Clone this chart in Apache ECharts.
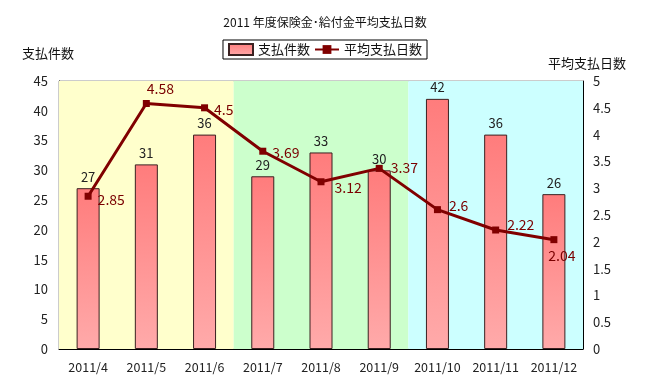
<!DOCTYPE html>
<html><head><meta charset="utf-8">
<script src="https://cdn.jsdelivr.net/npm/echarts@6/dist/echarts.min.js"></script>
<style>html,body{margin:0;padding:0;background:#fff}#c{width:650px;height:391px}</style>
</head><body><div id="c"></div>
<script>
const categories = ['2011/4','2011/5','2011/6','2011/7','2011/8','2011/9','2011/10','2011/11','2011/12'];
const payCounts = [27, 31, 36, 29, 33, 30, 42, 36, 26];
const avgDays = [2.85, 4.58, 4.5, 3.69, 3.12, 3.37, 2.6, 2.22, 2.04];
const leftTicks = [0, 45, 5];
const rightTicks = [0, 5, 0.5];
const bands = [[0, 3, '#FFFFCC'], [3, 6, '#CCFFCC'], [6, 9, '#CCFFFF']];

const FONT = '"Noto Sans CJK JP", "Noto Sans", sans-serif';
const lblPos = [
  {position:'right', offset:[0,3]},
  {position:'top', offset:[14,2]},
  {position:'right', offset:[0,2]},
  {position:'right', offset:[0,1]},
  {position:'right', offset:[4,6]},
  {position:'right', offset:[2,-1]},
  {position:'right', offset:[2,-4]},
  {position:'right', offset:[2,-5]},
  {position:'bottom', offset:[8,0]}
];

const chart = echarts.init(document.getElementById('c'));
chart.setOption({
  backgroundColor: '#fff',
  animation: false,
  textStyle: {fontFamily: FONT},
  title: [
    {text: '2011 年度保険金･給付金平均支払日数', left: 'center', top: 11,
     textStyle: {fontSize: 12, fontWeight: 'normal', color: '#111', fontFamily: FONT}},
    {text: '支払件数', left: 17, top: 42,
     textStyle: {fontSize: 13, fontWeight: 'normal', color: '#111', fontFamily: FONT}},
    {text: '平均支払日数', left: 543, top: 52,
     textStyle: {fontSize: 13, fontWeight: 'normal', color: '#111', fontFamily: FONT}}
  ],
  legend: {
    top: 40, left: 'center',
    borderColor: '#000', borderWidth: 1, borderRadius: 0,
    padding: [3, 5], itemGap: 4, itemWidth: 24, itemHeight: 11,
    backgroundColor: '#fff',
    textStyle: {fontSize: 13, color: '#111', fontFamily: FONT},
    data: [{name: '支払件数', icon: 'rect'}, {name: '平均支払日数'}]
  },
  grid: {left: 59, right: 67, top: 81, bottom: 42, show: true, borderColor: '#999', borderWidth: 1, backgroundColor: 'transparent'},
  xAxis: [
    {type: 'category', data: categories,
     axisLine: {lineStyle: {color: '#000'}},
     axisTick: {inside: true, length: 4, lineStyle: {color: '#000'}},
     axisLabel: {interval: 0, fontSize: 12.5, color: '#222', margin: 12, fontFamily: FONT},
     splitLine: {show: false}},
    {type: 'value', min: 0, max: 9, show: false}
  ],
  yAxis: [
    {type: 'value', min: leftTicks[0], max: leftTicks[1], interval: leftTicks[2],
     axisLine: {show: true, lineStyle: {color: '#000'}},
     axisTick: {show: true, inside: true, length: 4, lineStyle: {color: '#000'}},
     axisLabel: {fontSize: 13, color: '#222', margin: 11, fontFamily: FONT},
     splitLine: {show: false}},
    {type: 'value', min: rightTicks[0], max: rightTicks[1], interval: rightTicks[2],
     position: 'right',
     axisLine: {show: true, lineStyle: {color: '#000'}},
     axisTick: {show: true, inside: true, length: 4, lineStyle: {color: '#000'}},
     axisLabel: {fontSize: 13, color: '#222', margin: 10, fontFamily: FONT},
     splitLine: {show: false}}
  ],
  series: [
    {type: 'line', xAxisIndex: 1, yAxisIndex: 0, data: [], silent: true,
     markArea: {silent: true, data: bands.map(b => [{xAxis: b[0], itemStyle: {color: b[2]}}, {xAxis: b[1]}])}},
    {name: '支払件数', type: 'bar', data: payCounts, barWidth: 23, z: 3,
     itemStyle: {
       color: new echarts.graphic.LinearGradient(0, 0, 0, 1, [{offset: 0, color: '#FF7C7C'}, {offset: 1, color: '#FFAAAA'}]),
       borderColor: '#3a2020', borderWidth: 1
     },
     label: {show: true, position: 'top', distance: 5, fontSize: 13, color: '#222', fontFamily: FONT}},
    {name: '平均支払日数', type: 'line', yAxisIndex: 1, z: 5,
     data: avgDays.map((v, i) => ({value: v, label: lblPos[i]})),
     symbol: 'rect', symbolSize: 7,
     lineStyle: {color: '#800000', width: 3},
     itemStyle: {color: '#800000'},
     label: {show: true, fontSize: 14, color: '#7a0000', fontFamily: FONT, distance: 6}}
  ]
});
</script>
</body></html>
